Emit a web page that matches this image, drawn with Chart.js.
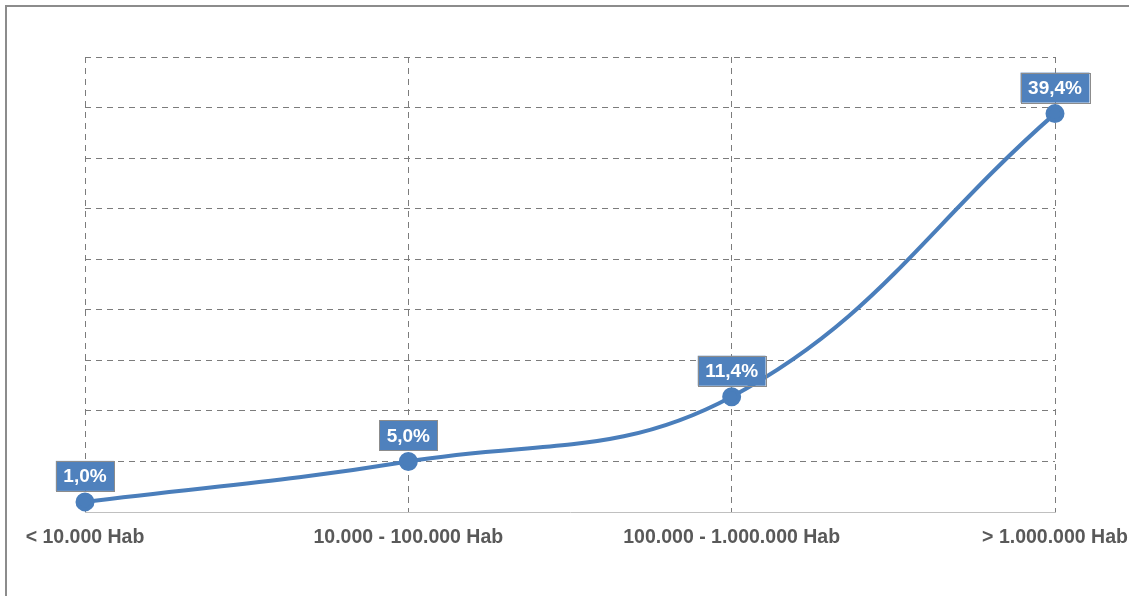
<!DOCTYPE html>
<html>
<head>
<meta charset="utf-8">
<script src="https://cdn.jsdelivr.net/npm/chart.js@4/dist/chart.umd.min.js"></script>
<style>
  html, body { margin: 0; padding: 0; background: #fff; }
  #wrap { width: 1129px; height: 596px; position: relative; }
</style>
</head>
<body>
<div id="wrap"><canvas id="chart" width="1129" height="596"></canvas></div>
<script>
const categories = ["< 10.000 Hab", "10.000 - 100.000 Hab", "100.000 - 1.000.000 Hab", "> 1.000.000 Hab"];
const shares = [1.0, 5.0, 11.4, 39.4];
const yMax = 45;
const yStep = 5;

const lineBlue = "#4a7ebb";
const gridGray = "#7c7c7c";
const font = "'Liberation Sans', Arial, sans-serif";

// outer frame of the original picture (cut off on right and bottom)
const framePlugin = {
  id: "frame",
  beforeDraw(chart) {
    const ctx = chart.ctx;
    ctx.save();
    ctx.strokeStyle = "#8c8c8c";
    ctx.lineWidth = 2;
    ctx.strokeRect(6, 6, 1400, 1400);
    ctx.restore();
  }
};

// blue boxed value labels above the points
const boxLabels = {
  id: "boxLabels",
  afterDatasetsDraw(chart) {
    const ctx = chart.ctx;
    const meta = chart.getDatasetMeta(0);
    ctx.save();
    ctx.font = "bold 19px " + font;
    ctx.textAlign = "center";
    ctx.textBaseline = "middle";
    meta.data.forEach((pt, i) => {
      const txt = shares[i].toFixed(1).replace(".", ",") + "%";
      const w = ctx.measureText(txt).width + 15;
      const h = 30;
      const bottom = pt.y - 11;
      const left = pt.x - w / 2;
      ctx.fillStyle = "#4f81bd";
      ctx.fillRect(left, bottom - h, w, h);
      ctx.strokeStyle = "#8c8c8c";
      ctx.lineWidth = 1;
      ctx.strokeRect(Math.round(left) + 0.5, Math.round(bottom - h) + 0.5, Math.round(w), h);
      ctx.fillStyle = "#ffffff";
      ctx.fillText(txt, pt.x, bottom - h / 2 + 1);
    });
    ctx.restore();
  }
};

new Chart(document.getElementById("chart").getContext("2d"), {
  type: "line",
  data: {
    labels: categories,
    datasets: [{
      data: shares,
      borderColor: lineBlue,
      backgroundColor: lineBlue,
      borderWidth: 4,
      pointRadius: 7.5,
      pointHoverRadius: 7.5,
      pointBackgroundColor: lineBlue,
      pointBorderColor: lineBlue,
      tension: 0.4,
      fill: false
    }]
  },
  options: {
    responsive: false,
    animation: false,
    layout: { padding: { left: 85, right: 74, top: 57, bottom: 0 } },
    plugins: {
      legend: { display: false },
      tooltip: { enabled: false }
    },
    scales: {
      x: {
        offset: false,
        grid: {
          color: gridGray,
          lineWidth: 1,
          drawTicks: false
        },
        border: { display: true, color: "#c0c0c0", width: 1, dash: [6, 5] },
        ticks: {
          color: "#595959",
          font: { family: font, size: 19.5, weight: "bold" },
          padding: 14,
          maxRotation: 0,
          autoSkip: false
        },
        afterFit(scale) {
          scale.height = 84;
          scale.paddingLeft = 0;
          scale.paddingRight = 0;
        }
      },
      y: {
        min: 0,
        max: yMax,
        ticks: { display: false, stepSize: yStep },
        grid: {
          color: (c) => (c.tick && c.tick.value === 0 ? "rgba(0,0,0,0)" : gridGray),
          lineWidth: 1,
          drawTicks: false
        },
        border: { display: false, dash: [6, 5] },
        afterFit(scale) { scale.width = 0; }
      }
    }
  },
  plugins: [framePlugin, boxLabels]
});
</script>
</body>
</html>
